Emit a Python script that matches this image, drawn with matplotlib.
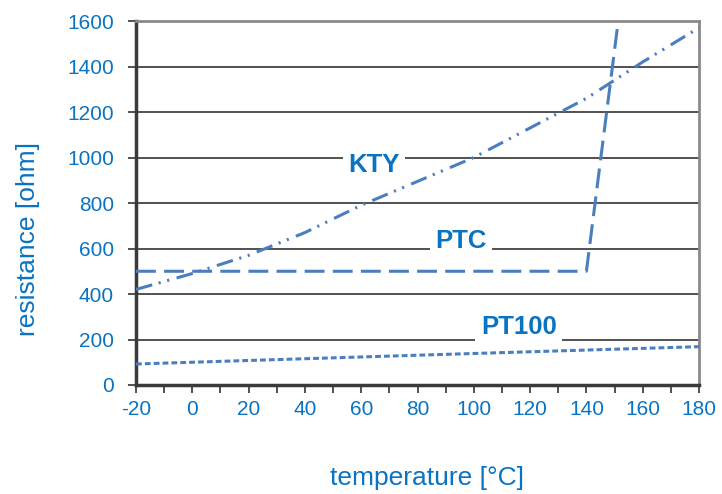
import matplotlib
matplotlib.use("Agg")
import matplotlib.pyplot as plt
from matplotlib.ticker import MultipleLocator

plt.rcParams['font.family'] = ['Liberation Sans', 'DejaVu Sans']
plt.rcParams['axes.unicode_minus'] = False

# Temperature [°C] and resistance [ohm] for each sensor type
kty_temp = [-20, 0, 20, 40, 60, 80, 100, 120, 140, 160, 180]
kty_res = [420, 490, 570, 670, 790, 895, 1000, 1130, 1260, 1420, 1570]

ptc_temp = [-20, 140, 151]
ptc_res = [500, 500, 1570]

pt100_temp = [-20, 0, 20, 40, 60, 80, 100, 120, 140, 160, 180]
pt100_res = [92.2, 100.0, 107.8, 115.5, 123.2, 130.9, 138.5, 146.1, 153.6, 161.0, 168.5]

x_ticks = list(range(-20, 181, 20))
y_ticks = list(range(0, 1601, 200))

line_color = '#4a7ebf'
text_color = '#0a73c2'

W, H = 722, 494
fig = plt.figure(figsize=(W / 100, H / 100), dpi=100)
ax = fig.add_axes([136 / W, 1 - 385 / H, (699 - 136) / W, (385 - 21) / H])

ax.set_xlim(-20, 180)
ax.set_ylim(0, 1600)
ax.set_xticks(x_ticks)
ax.set_yticks(y_ticks)
ax.xaxis.set_minor_locator(MultipleLocator(10))

for y in y_ticks[1:-1]:
    ax.axhline(y, color='#222222', lw=1.1, zorder=1)

ax.plot(kty_temp, kty_res, color=line_color, lw=2.2,
        dashes=[5.5, 2.2, 0.7, 2.2, 0.7, 2.5], zorder=3)
ax.plot(ptc_temp, ptc_res, color=line_color, lw=2.2,
        dashes=[6.5, 2.7], zorder=3)
ax.plot(pt100_temp, pt100_res, color=line_color, lw=2.2,
        dashes=[1.9, 1.0], zorder=3)

label_kw = dict(color=text_color, fontsize=18.5, fontweight='bold',
                ha='center', va='center', zorder=2,
                bbox=dict(facecolor='white', edgecolor='none', pad=4))
ax.text(64.5, 965, 'KTY', **label_kw)
ax.text(95.5, 635, 'PTC', **label_kw)
ax.text(116, 253, 'PT100', **label_kw)

for side in ('left', 'bottom'):
    ax.spines[side].set_color('#3a3a3a')
    ax.spines[side].set_linewidth(2.5)
for side in ('top', 'right'):
    ax.spines[side].set_color('#8a8a8a')
    ax.spines[side].set_linewidth(2)

ax.tick_params(axis='both', which='both', direction='out', color='#333333',
               labelcolor=text_color, labelsize=15)
ax.tick_params(axis='x', which='major', length=6, width=1.2, pad=5)
ax.tick_params(axis='x', which='minor', length=6, width=1.2)
ax.tick_params(axis='y', which='major', length=6, width=1.2, pad=10)

fig.text(427 / W, 1 - 478 / H, 'temperature [°C]', color=text_color,
         fontsize=19, ha='center', va='center')
fig.text(28 / W, 1 - 239 / H, 'resistance [ohm]', color=text_color,
         fontsize=19, ha='center', va='center', rotation=90)

fig.savefig('out.png', dpi=100)
